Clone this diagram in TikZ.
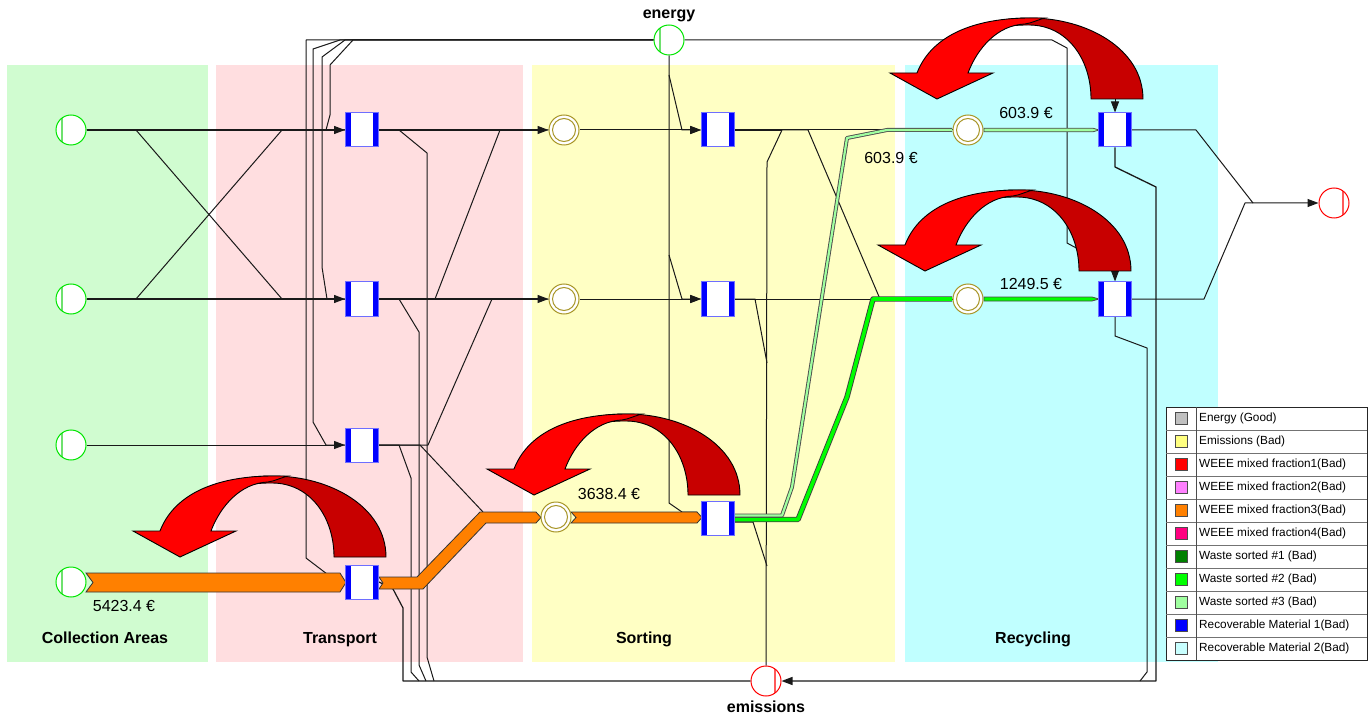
\documentclass[tikz,border=0pt]{standalone}
\usepackage{fontspec}
\setmainfont{Liberation Sans}
\usetikzlibrary{arrows.meta}
\pgfdeclarelayer{bg}
\pgfdeclarelayer{lines}
\pgfdeclarelayer{front}
\pgfsetlayers{bg,lines,main,front}
\definecolor{bggreen}{RGB}{208,252,208}
\definecolor{bgpink}{RGB}{255,222,224}
\definecolor{bgyellow}{RGB}{255,255,196}
\definecolor{bgcyan}{RGB}{192,255,255}
\definecolor{placeolive}{RGB}{168,150,40}
\definecolor{srcgreen}{RGB}{0,230,0}
\definecolor{srcinner}{RGB}{110,225,110}
\definecolor{sinkinner}{RGB}{255,90,90}
\definecolor{costdark}{RGB}{200,0,0}
\definecolor{costbright}{RGB}{255,0,0}
\definecolor{orangeflow}{RGB}{255,128,0}
\definecolor{wsgreen}{RGB}{0,255,0}
\definecolor{wslight}{RGB}{160,255,160}
\definecolor{boxblue}{RGB}{0,0,255}
\definecolor{boxlight}{RGB}{110,110,255}
\definecolor{flowline}{RGB}{25,25,25}
\definecolor{legGray}{RGB}{192,192,192}
\definecolor{legYellow}{RGB}{255,255,128}
\definecolor{legRed}{RGB}{255,0,0}
\definecolor{legPink}{RGB}{255,128,255}
\definecolor{legOrange}{RGB}{255,128,0}
\definecolor{legMagenta}{RGB}{255,0,128}
\definecolor{legDkGreen}{RGB}{0,128,0}
\definecolor{legGreen}{RGB}{0,255,0}
\definecolor{legLtGreen}{RGB}{160,255,160}
\definecolor{legBlue}{RGB}{0,0,255}
\definecolor{legCyan}{RGB}{200,255,255}
\begin{document}
\begin{tikzpicture}[x=1pt,y=-1pt,
  flow/.style={draw=flowline,line width=1pt,line join=round},
  arr/.style={-{Triangle[length=11pt,width=8pt]}},
  srcnode/.style={circle,draw=srcgreen,line width=1pt,fill=white,minimum size=30pt,inner sep=0pt,
    path picture={\draw[srcinner,line width=1.1pt] ([xshift=-9pt]path picture bounding box.center) ++(0,-12) -- ++(0,24);}},
  sinknode/.style={circle,draw=red,line width=1pt,fill=white,minimum size=30pt,inner sep=0pt,
    path picture={\draw[sinkinner,line width=1.1pt] ([xshift=9pt]path picture bounding box.center) ++(0,-12) -- ++(0,24);}},
  placenode/.style={circle,draw=placeolive,line width=1pt,fill=white,minimum size=30pt,inner sep=0pt,
    path picture={\draw[placeolive,line width=1pt] (path picture bounding box.center) circle[radius=11.5pt];}},
  boxnode/.style={rectangle,draw=boxlight,line width=1pt,fill=white,minimum width=33pt,minimum height=34pt,inner sep=0pt,
    path picture={\fill[boxblue] (path picture bounding box.south west) rectangle ([xshift=5.5pt]path picture bounding box.north west);
                  \fill[boxblue] (path picture bounding box.south east) rectangle ([xshift=-5.5pt]path picture bounding box.north east);}},
  seclabel/.style={font=\fontsize{16}{19}\selectfont\bfseries,inner sep=0pt,anchor=base},
  val/.style={font=\fontsize{16}{19}\selectfont,inner sep=0pt,anchor=base},
  legtext/.style={anchor=west,font=\fontsize{11.8}{14}\selectfont,inner sep=0pt},
  costarrow/.pic={
    \filldraw[fill=costdark,draw=black,line width=0.9pt]
      (206,0) .. controls (206,-50) and (150,-81) .. (93,-81)
      .. controls (80,-81) and (70,-80) .. (62,-78) -- (64,-71)
      .. controls (75,-74) and (85,-74) .. (92,-74)
      .. controls (130,-74) and (154,-40) .. (154,0) -- cycle;
    \filldraw[fill=costbright,draw=black,line width=0.9pt,line join=miter]
      (31,-26) .. controls (40,-50) and (60,-74) .. (88,-75)
      .. controls (95,-76) and (100,-79) .. (108,-81) -- (93,-81)
      .. controls (40,-81) and (-5,-65) .. (-20,-26)
      -- (-47,-26) -- (0,0) -- (56,-26) -- cycle;
  }
]
\useasboundingbox (0,0) rectangle (1370,719);

% ---------- backgrounds ----------
\begin{pgfonlayer}{bg}
\fill[bggreen] (7,65) rectangle (208,662);
\fill[bgpink] (216,65) rectangle (523,662);
\fill[bgyellow] (532,65) rectangle (895,662);
\fill[bgcyan] (905,65) rectangle (1218,662);
\end{pgfonlayer}

\node[seclabel] (labCA) at (105,643) {Collection Areas};
\node[seclabel] (labTR) at (340,643) {Transport};
\node[seclabel] (labSO) at (644,643) {Sorting};
\node[seclabel] (labRE) at (1033,643) {Recycling};

% ---------- nodes ----------
\node[srcnode] (s1) at (71,130) {};
\node[srcnode] (s2) at (71,299) {};
\node[srcnode] (s3) at (71,445) {};
\node[srcnode] (s4) at (71,582) {};
\node[srcnode] (en) at (669,40) {};
\node[sinknode] (em) at (766,681) {};
\node[sinknode] (out) at (1334,203) {};
\node[boxnode] (t1) at (362,130) {};
\node[boxnode] (t2) at (362,299) {};
\node[boxnode] (t3) at (362,445) {};
\node[boxnode] (t4) at (362,582) {};
\node[placenode] (p1) at (564,130) {};
\node[placenode] (p2) at (564,299) {};
\node[placenode] (p3) at (556,517) {};
\node[boxnode] (b1) at (718,130) {};
\node[boxnode] (b2) at (718,299) {};
\node[boxnode] (b3) at (718,518) {};
\node[placenode] (q1) at (968,130) {};
\node[placenode] (q2) at (968,299) {};
\node[boxnode] (r1) at (1115,130) {};
\node[boxnode] (r2) at (1115,299) {};

\coordinate (ej1) at (669,75);
\coordinate (ej2) at (669,255);
\coordinate (er1) at (1115,96);

% ---------- connectors ----------
\begin{pgfonlayer}{lines}
% energy
\draw[flow] (en.west) -- (345,40) -- (322,57) -- (322,267) -- (327,299) -- (t2.west);
\draw[flow] (en.west) -- (340,40) -- (313,49) -- (313,422) -- (326,445) -- (t3.west);
\draw[flow] (en.west) -- (306,40) -- (306,558) -- (327,574) -- (t4.west);
\draw[flow] (en.west) -- (353,40) -- (330,65) -- (330,115) -- (326,130) -- (t1.west);
\draw[flow] (en.south) -- (669,503) -- (682,512) -- (697,512);
\draw[flow,arr] (ej1) -- (682,130) -- (b1.west);
\draw[flow,arr] (ej2) -- (682,299) -- (b2.west);
\draw[flow,arr] (en.east) -- (1052,40) -- (1067,48) -- (1067,243) -- (1080,250) -- (1115,262) -- (r2.north);
\draw[flow,arr] (er1) -- (r1.north);
% collection -> transport
\draw[flow] (s1.east) -- (136,130) -- (282,299) -- (t2.west);
\draw[flow] (s2.east) -- (136,299) -- (282,130) -- (t1.west);
\draw[flow,line width=1.3pt,arr] (s1.east) -- (t1.west);
\draw[flow,line width=1.3pt,arr] (s2.east) -- (t2.west);
\draw[flow,arr] (s3.east) -- (t3.west);
% transport -> sorting
\draw[flow] (t1.east) -- (399,130) -- (427,153) -- (427,657) -- (434,681);
\draw[flow] (t2.east) -- (435,299) -- (500,130) -- (p1.west);
\draw[flow] (t2.east) -- (399,299) -- (419,332) -- (419,665) -- (426,681);
\draw[flow] (t3.east) -- (428,445) -- (492,299) -- (p2.west);
\draw[flow] (t3.east) -- (420,445) -- (483,512);
\draw[flow] (t3.east) -- (399,445) -- (411,478) -- (411,672) -- (419,681);
\draw[flow,line width=1.2pt] (t4.east) -- (393,589) -- (403,608) -- (403,681) -- (em.west);
\draw[flow,line width=1.3pt,arr] (t1.east) -- (p1.west);
\draw[flow,line width=1.3pt,arr] (t2.east) -- (p2.west);
% sorting
\draw[flow,arr] (p1.east) -- (b1.west);
\draw[flow,arr] (p2.east) -- (b2.west);
\draw[flow] (b1.east) -- (q1.west);
\draw[flow,line width=1.3pt] (b1.east) -- (782,130);
\draw[flow] (782,130) -- (767,162) -- (em.north);
\draw[flow] (b1.east) -- (808,130) -- (880,299) -- (q2.west);
\draw[flow] (b2.east) -- (q2.west);
\draw[flow] (b2.east) -- (755,299) -- (767,363);
\draw[flow] (735,522) -- (753,522) -- (767,566);
% recycling
\draw[flow,arr] (r1.east) -- (1196,130) -- (1253,203) -- (out.west);
\draw[flow] (r2.east) -- (1204,299) -- (1245,203) -- (1253,203);
\draw[flow,line width=1.3pt,arr] (r1.south) -- (1115,167) -- (1156,187) -- (1156,681) -- (em.east);
\draw[flow] (r2.south) -- (1115,336) -- (1147,348) -- (1147,672) -- (1140,681);

% orange bands
\filldraw[fill=orangeflow,draw=black!80,line width=0.8pt]
  (86,573) -- (340,573) -- (346,582.5) -- (340,592) -- (86,592) -- (93,582.5) -- cycle;
\filldraw[fill=orangeflow,draw=black!80,line width=0.8pt]
  (379,577) -- (417,577) -- (480,512) -- (536,512) -- (541,517.5) -- (536,523) -- (486,523) -- (423,589) -- (379,589) -- (383,583) -- cycle;
\filldraw[fill=orangeflow,draw=black!80,line width=0.8pt]
  (571,512) -- (697,512) -- (702,517.5) -- (697,523) -- (571,523) -- (576,517.5) -- cycle;
% green bands
\draw[line width=5.4pt,black!75,line join=round] (735,519.5) -- (798,519.5) -- (847,397) -- (873,299) -- (952,299);
\draw[line width=3.6pt,wsgreen,line join=round] (735,519.5) -- (798,519.5) -- (847,397) -- (873,299) -- (952,299);
\draw[line width=4pt,black!70,line join=round] (735,515.5) -- (782,515.5) -- (792,487) -- (847,138) -- (887,130) -- (952,130);
\draw[line width=2.2pt,wslight,line join=round] (735,515.5) -- (782,515.5) -- (792,487) -- (847,138) -- (887,130) -- (952,130);
\filldraw[fill=wslight,draw=black!70,line width=0.8pt]
  (984,128.2) -- (1093,128.2) -- (1099,130) -- (1093,131.8) -- (984,131.8) -- cycle;
\filldraw[fill=wsgreen,draw=black!70,line width=0.8pt]
  (984,297) -- (1092,297) -- (1099,299) -- (1092,301) -- (984,301) -- cycle;
\end{pgfonlayer}

% ---------- cost arrows and labels ----------
\begin{pgfonlayer}{front}
\pic at (180,557) {costarrow};
\pic at (534,495) {costarrow};
\pic at (937,99) {costarrow};
\pic at (925,271) {costarrow};
\node[val] (v1) at (124,611) {5423.4 €};
\node[val] (v2) at (609,499) {3638.4 €};
\node[val] (v3) at (1026,119) {603.9 €};
\node[val] (v4) at (891,164) {603.9 €};
\node[val] (v5) at (1031,289) {1249.5 €};
\node[seclabel] (lenergy) at (669,19) {energy};
\node[seclabel] (lemis) at (766,712) {emissions};
% legend
\filldraw[fill=white,draw=black!85,line width=0.9pt] (1166,407) rectangle (1367,660);
\foreach \i in {1,...,10} \draw[black!55,line width=0.7pt] (1166,{407+23*\i}) -- (1367,{407+23*\i});
\draw[black!70,line width=0.8pt] (1196,407) -- (1196,660);
\foreach \c/\t [count=\i from 0] in {legGray/Energy (Good),legYellow/Emissions (Bad),legRed/WEEE mixed fraction1(Bad),legPink/WEEE mixed fraction2(Bad),legOrange/WEEE mixed fraction3(Bad),legMagenta/WEEE mixed fraction4(Bad),legDkGreen/Waste sorted \#1 (Bad),legGreen/Waste sorted \#2 (Bad),legLtGreen/Waste sorted \#3 (Bad),legBlue/Recoverable Material 1(Bad),legCyan/Recoverable Material 2(Bad)}{
  \node[draw=black!70,line width=0.9pt,fill=\c,minimum size=12pt,inner sep=0pt] (legsw\i) at (1181,{418.5+23*\i}) {};
  \node[legtext] (legtx\i) at (1199,{418.5+23*\i}) {\t};
}
\end{pgfonlayer}
\end{tikzpicture}
\end{document}
